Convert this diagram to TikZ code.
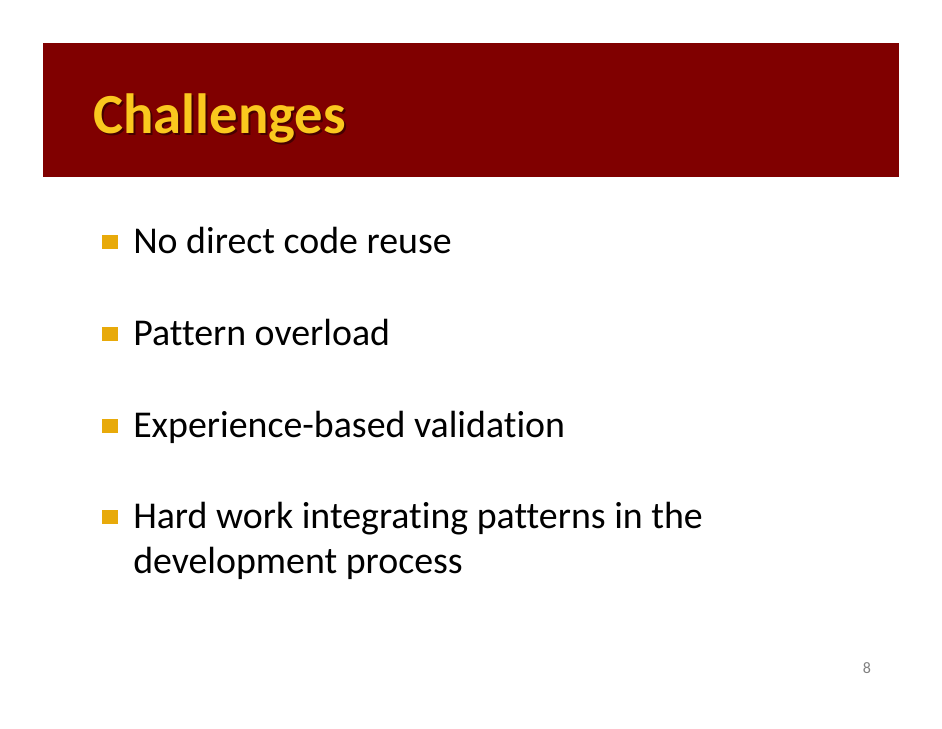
\documentclass[tikz,border=0pt]{standalone}
\usepackage{fontspec}
\setmainfont[Ligatures=NoCommon]{Carlito}
\definecolor{banner}{RGB}{128,0,0}
\definecolor{titleyellow}{RGB}{250,200,30}
\definecolor{titleshade}{RGB}{70,0,0}
\definecolor{bulletgold}{RGB}{232,170,10}
\begin{document}
\begin{tikzpicture}[
    x=0.75pt, y=-0.75pt,
    item/.style={anchor=base west, inner sep=0pt, align=left, font=\fontsize{28.4}{33.75}\selectfont},
    bullet/.style={fill=bulletgold, inner sep=0pt, minimum width=12, minimum height=11},
    heading/.style={anchor=base west, inner sep=0pt, font=\fontsize{42.5}{50}\selectfont\bfseries}
]
\useasboundingbox[fill=white] (0,0) rectangle (942,728);
% Title banner
\fill[banner] (43,43) rectangle (899,177);
\node[heading, text=titleshade] (title_shade) at (95,135) {Challenges};
\node[heading, text=titleyellow] (title) at (93,133) {Challenges};

% Bullets
\node[bullet] (b1) at (110,242) {};
\node[item] (reuse) at (133,253) {No direct code reuse};
\node[bullet] (b2) at (110,334) {};
\node[item] (overload) at (133,345) {Pattern overload};
\node[bullet] (b3) at (110,426) {};
\node[item] (validation) at (133,437) {Experience-based validation};
\node[bullet] (b4) at (110,517) {};
% base anchor of a two-line node sits on its last line
\node[item] (integration) at (133,573) {Hard work integrating patterns in the\\development process};

% Page number
\node[anchor=base, inner sep=0pt, text=gray, font=\fontsize{12}{14}\selectfont] (page) at (867,673) {8};
\end{tikzpicture}
\end{document}
